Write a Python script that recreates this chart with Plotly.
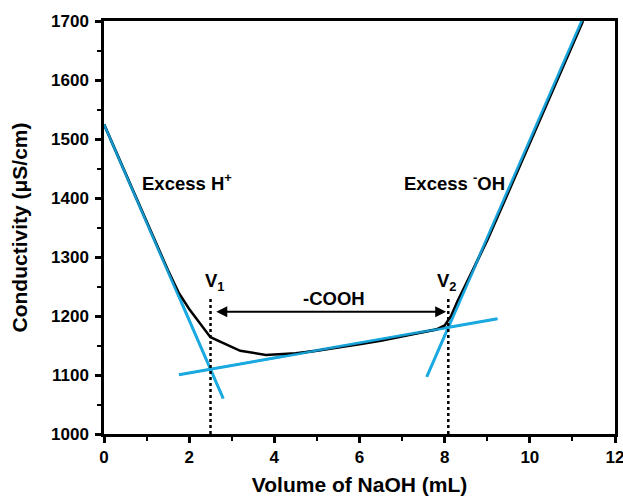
import plotly.graph_objects as go

# Conductometric titration curve
volume = [0, 0.5, 1.0, 1.5, 1.75, 2.0, 2.5, 3.2, 3.8, 4.5, 5.0, 5.5, 6.0, 6.5, 7.0,
          7.5, 7.8, 8.0, 8.15, 8.3, 8.6, 9.0, 9.5, 10.0, 10.5, 11.0, 11.25]
conductivity = [1525, 1442, 1359, 1278, 1240, 1212, 1164, 1141, 1134, 1137, 1141, 1146,
                1152, 1158, 1165, 1172, 1177, 1184, 1200, 1225, 1270, 1328, 1410, 1493,
                1577, 1660, 1700]

# Linear fits of the three branches: (intercept, slope, x_start, x_end)
fit_intercepts = [1525, 1078, -158.2]
fit_slopes = [-166, 12.7, 165.6]
fit_x_start = [0, 1.76, 7.58]
fit_x_end = [2.8, 9.24, 11.4]

BLUE = "#1ba9e1"
FONT = "Liberation Sans"

# Equivalence points from intersections of the fitted lines
v1 = (fit_intercepts[0] - fit_intercepts[1]) / (fit_slopes[1] - fit_slopes[0])
v2 = (fit_intercepts[2] - fit_intercepts[1]) / (fit_slopes[1] - fit_slopes[2])
marker_top = 1232

fig = go.Figure()

for b, m, xs, xe in zip(fit_intercepts, fit_slopes, fit_x_start, fit_x_end):
    fig.add_trace(go.Scatter(x=[xs, xe], y=[b + m * xs, b + m * xe], mode="lines",
                             line=dict(color=BLUE, width=3), showlegend=False,
                             hoverinfo="skip"))

fig.add_trace(go.Scatter(x=volume, y=conductivity, mode="lines",
                         line=dict(color="black", width=2.5), showlegend=False))

# Re-draw fits on top of the measured curve where they overlap
for b, m, xs, xe in zip(fit_intercepts, fit_slopes, fit_x_start, fit_x_end):
    fig.add_trace(go.Scatter(x=[xs, xe], y=[b + m * xs, b + m * xe], mode="lines",
                             line=dict(color=BLUE, width=2.2), showlegend=False,
                             hoverinfo="skip", opacity=0.9))

for v in (v1, v2):
    fig.add_trace(go.Scatter(x=[v, v], y=[1000, marker_top], mode="lines",
                             line=dict(color="black", width=2.5, dash="dot"),
                             showlegend=False, hoverinfo="skip"))

lab_font = dict(family=FONT, size=18.5, color="black", weight="bold")

fig.add_annotation(x=v2 - 0.05, y=1207, ax=v1 + 0.1, ay=1207, xref="x", yref="y",
                   axref="x", ayref="y", text="", showarrow=True, arrowhead=2,
                   arrowside="end+start", arrowsize=1.1, arrowwidth=2, arrowcolor="black")
fig.add_annotation(x=5.41, y=1229, text="-COOH", showarrow=False, font=lab_font)
fig.add_annotation(x=v1 + 0.1, y=1258, text="V<sub>1</sub>", showarrow=False, font=lab_font)
fig.add_annotation(x=v2 - 0.02, y=1258, text="V<sub>2</sub>", showarrow=False, font=lab_font)
fig.add_annotation(x=1.94, y=1427, text="Excess H<sup>+</sup>", showarrow=False, font=lab_font)
fig.add_annotation(x=8.23, y=1427, text="Excess <sup>-</sup>OH", showarrow=False, font=lab_font)

axis_common = dict(showline=True, mirror=True, linecolor="black", linewidth=2.5,
                   ticks="outside", ticklen=6, tickwidth=2.5, tickcolor="black",
                   showgrid=False, zeroline=False, automargin=False,
                   ticklabeloverflow="allow",
                   tickfont=dict(family=FONT, size=17, color="black", weight="bold"))

fig.update_xaxes(range=[0, 12], dtick=2, tick0=0,
                 minor=dict(dtick=1, ticks="outside", ticklen=4, tickwidth=2,
                            tickcolor="black"),
                 title=dict(text="Volume of NaOH (mL)", standoff=12,
                            font=dict(family=FONT, size=21, color="black", weight="bold")),
                 **axis_common)
fig.update_yaxes(range=[1000, 1700], dtick=100, tick0=1000, ticklabelstandoff=3,
                 minor=dict(dtick=50, ticks="outside", ticklen=4, tickwidth=2,
                            tickcolor="black"),
                 title=dict(text="Conductivity (μS/cm)", standoff=18,
                            font=dict(family=FONT, size=21, color="black", weight="bold")),
                 **axis_common)

fig.update_layout(width=623, height=499, margin=dict(l=104, r=8, t=21, b=65),
                  plot_bgcolor="white", paper_bgcolor="white")

fig.write_html("out.html")
